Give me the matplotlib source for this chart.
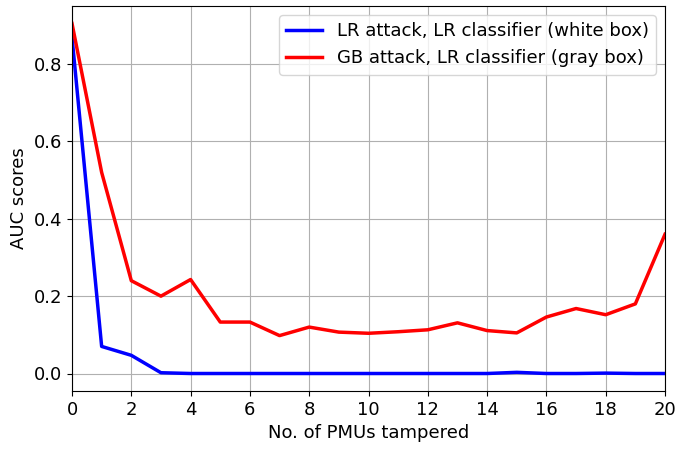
import numpy as np
import matplotlib
matplotlib.use("Agg")
import matplotlib.pyplot as plt

# No. of PMUs tampered
pmus = list(range(21))

# AUC scores
auc_lr_white = [0.87, 0.07, 0.047, 0.002, 0.0, 0.0, 0.0, 0.0, 0.0, 0.0, 0.0,
                0.0, 0.0, 0.0, 0.0, 0.003, 0.0, 0.0, 0.001, 0.0, 0.0]
auc_gb_gray = [0.905, 0.52, 0.24, 0.20, 0.243, 0.133, 0.133, 0.098, 0.12, 0.107,
               0.104, 0.108, 0.113, 0.131, 0.111, 0.105, 0.146, 0.168, 0.152, 0.18, 0.36]

plt.rcParams['font.size'] = 13
fig = plt.figure(figsize=(6.76, 4.51), dpi=100)
ax = fig.add_axes([72 / 676, 1 - 391 / 451, (665 - 72) / 676, (391 - 6) / 451])

ax.plot(pmus, auc_lr_white, color="blue", linewidth=2.5,
        label="LR attack, LR classifier (white box)")
ax.plot(pmus, auc_gb_gray, color="red", linewidth=2.5,
        label="GB attack, LR classifier (gray box)")

ax.set_xlim(0, 20)
ax.set_xticks(range(0, 21, 2))
ax.set_xlabel("No. of PMUs tampered")
ax.set_ylabel("AUC scores")
ax.grid(True)
ax.legend(loc="upper right")

plt.savefig("out.png")
